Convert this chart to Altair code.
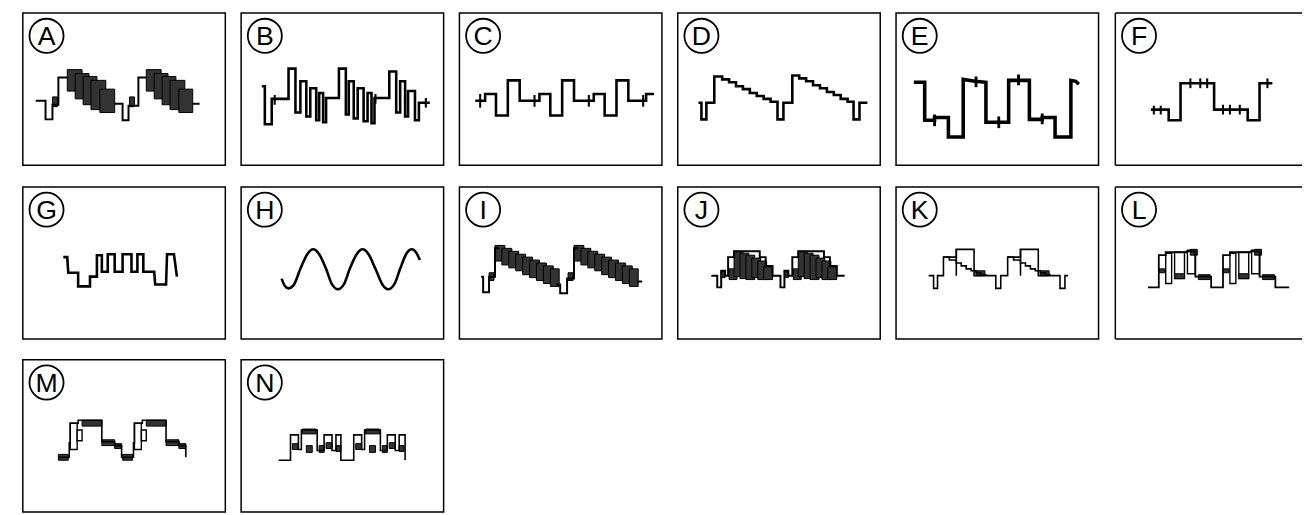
import altair as alt
import pandas as pd

LETTERS = list("ABCDEFGHIJKLMN")

# ---- traces: panel units (~px from each panel's top-left, y downward)
A_LINES = [[(13,90),(23,90),(23,109),(30,109),(30,94),(36,94),(36,66),(45,66)],
           [(93,93),(101,93),(101,110),(107,110),(107,95),(117,95),(117,66),(125,66)],
           [(172,93),(179,93)]]
A_HATCH = [(45,60,58,80),(53,67,62,88),(61,75,65,94),(69,84,69,99),(78,93,78,102),(30,35,86,96),
           (125,140,58,80),(133,147,62,88),(141,155,65,94),(149,164,69,99),(158,172,78,102),(108,113,86,96)]

B_LINES = [[(21,75),(24,75),(24,114),(31,114),(31,88),(48,88),(48,57),(55,57),(55,102),(60,102),(60,70),
            (66,70),(66,106),(70,106),(70,77),(76,77),(76,110),(79,110),(79,82),(83,82),(83,112),(86,112),
            (86,87),(99,87),(99,57),(106,57),(106,104),(109,104),(109,70),(114,70),(114,108),(118,108),
            (118,77),(124,77),(124,111),(128,111),(128,82),(132,82),(132,113),(135,113),(135,87),(150,87),
            (150,60),(157,60),(157,102),(161,102),(161,70),(166,70),(166,106),(169,106),(169,80),(176,80),
            (176,110),(180,110),(180,92),(191,92)]]
B_TICKS = [(34,84,94),(136,83,93),(187,87,97)]

C_LINES = [[(16,90),(26,90),(26,83),(37,83),(37,105),(49,105),(49,69),(61,69),(61,90),(81,90),(81,83),
            (92,83),(92,105),(104,105),(104,69),(116,69),(116,90),(136,90),(136,83),(147,83),(147,105),
            (159,105),(159,69),(171,69),(171,90),(189,90),(189,83),(197,83)]]
C_TICKS = [(21,83,97),(76,84,96),(131,84,96),(186,84,96)]

D_LINES = [[(21,92),(24,92),(24,109),(29,109),(29,92),(37,92),(37,65),(45,65),(45,68),(52,68),(52,71),
            (59,71),(59,75),(66,75),(66,78),(73,78),(73,82),(80,82),(80,85),(87,85),(87,88),(94,88),
            (94,91),(101,91),(101,109),(107,109),(107,92),(116,92),(116,64),(123,64),(123,67),(130,67),
            (130,70),(137,70),(137,74),(144,74),(144,77),(151,77),(151,81),(158,81),(158,84),(165,84),
            (165,88),(172,88),(172,91),(178,91),(178,109),(184,109),(184,92),(192,92)]]

E_LINES = [[(18,71),(29,71),(29,110),(39,110),(39,107),(53,107),(53,127),(68,127),(68,68),(80,70),
            (91,71),(91,112),(114,112),(114,69),(135,69),(135,109),(148,109),(148,107),(161,107),
            (161,127),(177,127),(177,69),(182,70),(185,73)]]
E_TICKS = [(39,104,116),(81,65,76),(104,106,118),(124,63,74),(148,103,114)]

F_LINES = [[(36,99),(54,99),(54,110),(66,110),(66,72),(100,72),(100,99),(134,99),(134,110),(146,110),
            (146,72),(159,72)]]
F_TICKS = [(39,95,104),(46,95,104),(76,67,77),(86,67,77),(93,67,77),(109,94,104),(116,94,104),
           (126,94,104),(154,67,77)]

G_LINES = [[(41,72),(45,72),(46,88),(56,88),(56,102),(68,102),(68,92),(75,92),(75,70),(80,70),(80,87),
            (86,87),(86,69),(93,69),(93,87),(101,87),(101,69),(110,69),(110,87),(116,87),(116,69),
            (122,69),(122,87),(133,87),(134,100),(145,100),(146,69),(153,69),(156,92)]]

H_LINES = [[(41,94),(44,101),(48,104),(53,101),(60,84),(67,69),(73,64),(79,69),(86,84),(92,100),(98,105),
            (104,100),(110,84),(117,69),(123,64),(129,69),(136,84),(143,100),(149,105),(155,100),
            (161,84),(167,69),(173,64),(177,67),(181,75)]]

I_LINES = [[(22,92),(24,92),(24,108),(30,108),(30,92),(36,92),(36,63),(40,63)],
           [(98,100),(102,100),(102,109),(109,109),(109,94),(116,94),(116,63),(120,63)],
           [(180,97),(185,97)]]
I_HATCH = [(36,46,60,76),(43,53,63,80),(50,60,66,83),(57,67,69,86),(64,74,72,90),(71,81,75,93),
           (78,88,78,96),(85,95,81,99),(92,101,84,102),(30,35,88,96),
           (116,126,60,76),(123,133,63,80),(130,140,66,83),(137,147,69,86),(144,154,72,90),
           (151,161,75,93),(158,168,78,96),(165,175,81,99),(172,181,84,102),(110,115,88,96)]

J_LINES = [[(34,91),(40,91),(40,103),(44,103),(44,86),(48,86),(48,91),(51,91),(51,72),(57,72),(57,66),
            (83,66),(83,72),(89,72),(89,81),(96,81),(96,91),(104,91),(104,103),(108,103),(108,86),
            (112,86),(112,91),(116,91),(116,72),(122,72),(122,66),(148,66),(148,72),(154,72),(154,81),
            (161,81),(161,91),(169,91)]]
J_HATCH = [(52,60,84,95),(57,66,66,92),(63,72,68,94),(69,78,70,95),(75,84,73,93),(81,90,76,95),
           (87,96,82,95),(44,48,86,93),
           (117,125,84,95),(122,131,66,92),(128,137,68,94),(134,143,70,95),(140,149,73,93),
           (146,155,76,95),(152,161,82,95),(108,112,86,93)]

K_LINES = [[(33,91),(38,91),(38,104),(42,104),(42,91),(48,91),(48,72),(61,72),(61,64),(79,64),(79,91),
            (101,91),(101,104),(106,104),(106,91),(113,91),(113,72),(126,72),(126,64),(144,64),(144,91),
            (166,91),(166,104),(171,104),(171,91),(174,91)],
           [(48,72),(54,72),(54,75),(61,75),(61,78),(66,78),(66,81),(71,81),(71,84),(76,84),(76,86),
            (81,86),(81,88),(86,88),(86,90),(91,90),(91,91)],
           [(61,64),(61,91)],
           [(113,72),(119,72),(119,75),(126,75),(126,78),(131,78),(131,81),(136,81),(136,84),(141,84),
            (141,86),(146,86),(146,88),(151,88),(151,90),(156,90),(156,91)],
           [(126,64),(126,91)]]
K_HATCH = [(81,90,86,91),(146,155,86,91)]

L_LINES = [[(33,103),(44,103),(44,70),(51,70),(51,67),(72,67),(72,66),(81,66),(81,92),(97,92),(97,103),
            (109,103),(109,70),(116,70),(116,67),(137,67),(137,66),(146,66),(146,92),(162,92),(162,103),
            (176,103)]]
L_BOXES = [(51,57,68,99),(60,70,67,94),(73,81,65,89),(116,122,68,99),(125,135,67,94),(138,146,65,89)]
L_HATCH = [(44,50,84,88),(60,70,89,94),(76,83,64,70),(84,96,90,95),
           (109,115,84,88),(125,135,89,94),(141,148,64,70),(149,161,90,95)]

M_LINES = [[(36,100),(47,100),(47,85),(48,85),(48,65),(56,65),(56,62),(80,62),(80,84),(93,84),(93,88),
            (100,88),(100,100),(112,100),(112,85),(113,85),(113,65),(121,65),(121,62),(145,62),(145,84),
            (158,84),(158,88),(165,88),(165,100)]]
M_BOXES = [(48,55,65,92),(55,60,72,83),(113,120,65,92),(120,125,72,83)]
M_HATCH = [(36,46,97,103),(60,80,62,68),(80,93,82,88),(93,100,86,91),
           (101,111,97,103),(125,145,62,68),(145,158,82,88),(158,165,86,91)]

N_LINES = [[(38,103),(50,103),(50,77),(58,77),(58,92),(61,92),(61,72),(77,72),(77,93),(84,93),(84,77),
            (92,77),(92,93),(96,93),(96,77),(101,77),(101,103),(114,103),(114,77),(122,77),(122,92),
            (125,92),(125,72),(141,72),(141,93),(148,93),(148,77),(156,77),(156,93),(160,93),(160,77),
            (166,77),(166,103)]]
N_HATCH = [(52,58,86,92),(62,76,71,76),(66,72,88,95),(79,84,88,95),(86,92,85,91),(96,101,88,94),
           (116,122,86,92),(126,140,71,76),(130,136,88,95),(143,148,88,95),(150,156,85,91),(160,165,88,94)]

# ---- layout / style
PW, PW_LAST, PH = 205, 187, 154
UNITS_H = 156
HATCH_FILL = "#333333"
FONT = "Liberation Sans"


def seg_df(segs):
    rows = []
    for s, pts in enumerate(segs):
        for i, (x, y) in enumerate(pts):
            rows.append({"seg": s, "i": i, "x": x, "y": y})
    return pd.DataFrame(rows)


def rect_df(rects):
    return pd.DataFrame(rects, columns=["x1", "x2", "y1", "y2"])


def panel(letter, lines, sw, width=PW, hatch=(), boxes=(), ticks=(), smooth=False, open_right=False):
    xs = alt.Scale(domain=[0, width], nice=False, zero=False)
    ys = alt.Scale(domain=[0, UNITS_H], nice=False, zero=False, reverse=True)
    layers = []
    if boxes:
        layers.append(alt.Chart(rect_df(boxes)).mark_rect(fill="white", stroke="black", strokeWidth=1.4).encode(
            x=alt.X("x1:Q", scale=xs, axis=None), x2="x2:Q",
            y=alt.Y("y1:Q", scale=ys, axis=None), y2="y2:Q"))
    if hatch:
        layers.append(alt.Chart(rect_df(hatch)).mark_rect(fill=HATCH_FILL, stroke="black", strokeWidth=1).encode(
            x=alt.X("x1:Q", scale=xs, axis=None), x2="x2:Q",
            y=alt.Y("y1:Q", scale=ys, axis=None), y2="y2:Q"))
    layers.append(alt.Chart(seg_df(lines)).mark_line(
        color="black", strokeWidth=sw, strokeJoin="miter",
        interpolate="monotone" if smooth else "linear").encode(
        x=alt.X("x:Q", scale=xs, axis=None),
        y=alt.Y("y:Q", scale=ys, axis=None),
        detail="seg:N", order="i:Q"))
    if ticks:
        layers.append(alt.Chart(pd.DataFrame(ticks, columns=["x", "y1", "y2"])).mark_rule(
            color="black", strokeWidth=max(1.5, sw * 0.8)).encode(
            x=alt.X("x:Q", scale=xs, axis=None),
            y=alt.Y("y1:Q", scale=ys, axis=None), y2="y2:Q"))
    lab = pd.DataFrame({"letter": [letter]})
    layers.append(alt.Chart(lab).mark_point(shape="circle", size=1190, filled=False,
                                            stroke="black", strokeWidth=1.8, opacity=1).encode(
        x=alt.value(24), y=alt.value(23)))
    layers.append(alt.Chart(lab).mark_text(font=FONT, fontSize=27, align="center",
                                           baseline="alphabetic", color="black").encode(
        x=alt.value(24), y=alt.value(32.8), text="letter:N"))
    if open_right:
        fr = pd.DataFrame({"k": [0]})
        layers.append(alt.Chart(fr).mark_rule(color="black", strokeWidth=1.5).encode(
            x=alt.value(0), x2=alt.value(width + 2), y=alt.value(0)))
        layers.append(alt.Chart(fr).mark_rule(color="black", strokeWidth=1.5).encode(
            x=alt.value(0), x2=alt.value(width + 2), y=alt.value(PH)))
        layers.append(alt.Chart(fr).mark_rule(color="black", strokeWidth=1.5).encode(
            x=alt.value(0), y=alt.value(0), y2=alt.value(PH)))
    ch = alt.layer(*layers).properties(width=width, height=PH)
    if open_right:
        ch = ch.properties(view=alt.ViewBackground(stroke="transparent"))
    return ch


pA = panel("A", A_LINES, 2.0, hatch=A_HATCH)
pB = panel("B", B_LINES, 2.6, ticks=B_TICKS)
pC = panel("C", C_LINES, 2.6, ticks=C_TICKS)
pD = panel("D", D_LINES, 2.6)
pE = panel("E", E_LINES, 3.6, ticks=E_TICKS)
pF = panel("F", F_LINES, 2.6, width=PW_LAST, ticks=F_TICKS, open_right=True)
pG = panel("G", G_LINES, 2.6)
pH = panel("H", H_LINES, 2.6, smooth=True)
pI = panel("I", I_LINES, 2.0, hatch=I_HATCH)
pJ = panel("J", J_LINES, 2.0, hatch=J_HATCH)
pK = panel("K", K_LINES, 1.6, hatch=K_HATCH)
pL = panel("L", L_LINES, 1.8, width=PW_LAST, hatch=L_HATCH, boxes=L_BOXES, open_right=True)
pM = panel("M", M_LINES, 1.6, hatch=M_HATCH, boxes=M_BOXES)
pN = panel("N", N_LINES, 1.6, hatch=N_HATCH)

row1 = alt.hconcat(pA, pB, pC, pD, pE, pF, spacing=14).resolve_scale(x="independent", y="independent")
row2 = alt.hconcat(pG, pH, pI, pJ, pK, pL, spacing=14).resolve_scale(x="independent", y="independent")
row3 = alt.hconcat(pM, pN, spacing=14).resolve_scale(x="independent", y="independent")

chart = alt.vconcat(row1, row2, row3, spacing=18).resolve_scale(
    x="independent", y="independent").properties(
    padding={"left": 14, "top": 0, "right": 0, "bottom": 0},
    background="white",
).configure_view(stroke="black", strokeWidth=1.5)

chart.save("out.html", embed_options={"renderer": "svg", "actions": False})
